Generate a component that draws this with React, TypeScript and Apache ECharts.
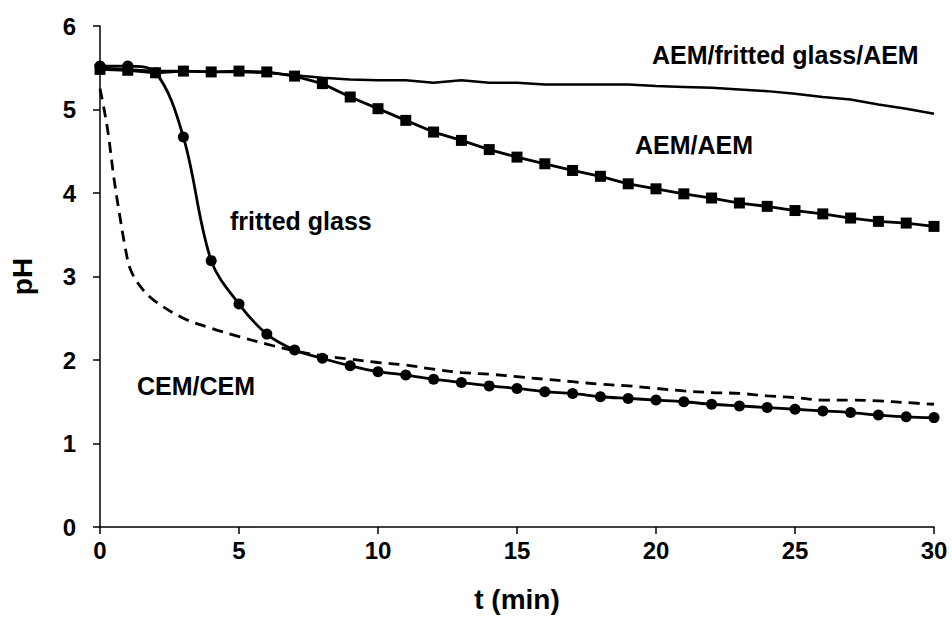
import React, { useEffect, useRef } from "react";
import * as echarts from "echarts";

const timeMinutes = [0, 1, 2, 3, 4, 5, 6, 7, 8, 9, 10, 11, 12, 13, 14, 15, 16, 17, 18, 19, 20, 21, 22, 23, 24, 25, 26, 27, 28, 29, 30];

const aemAemPH = [5.48, 5.47, 5.44, 5.46, 5.45, 5.46, 5.45, 5.4, 5.31, 5.15, 5.01, 4.87, 4.73, 4.63, 4.52, 4.43, 4.35, 4.27, 4.2, 4.11, 4.05, 3.99, 3.94, 3.88, 3.84, 3.79, 3.75, 3.7, 3.66, 3.64, 3.6];

const frittedGlassPH = [5.52, 5.52, 5.44, 4.67, 3.19, 2.67, 2.31, 2.12, 2.02, 1.93, 1.86, 1.82, 1.77, 1.73, 1.69, 1.66, 1.62, 1.6, 1.56, 1.54, 1.52, 1.5, 1.47, 1.45, 1.43, 1.41, 1.39, 1.37, 1.34, 1.32, 1.31];

const aemFrittedAemPH = [5.5, 5.48, 5.46, 5.46, 5.45, 5.45, 5.44, 5.41, 5.38, 5.36, 5.35, 5.35, 5.32, 5.35, 5.32, 5.32, 5.3, 5.3, 5.3, 5.3, 5.28, 5.27, 5.26, 5.24, 5.22, 5.19, 5.15, 5.12, 5.06, 5.01, 4.95];

const cemTimes = [0, 0.15, 0.3, 0.5, 0.7, 0.9, 1.1, 1.5, 2, 3, 4, 5, 6, 7, 8, 9, 10, 11, 12, 13, 14, 15, 16, 17, 18, 19, 20, 21, 22, 23, 24, 25, 26, 27, 28, 29, 30];
const cemCemPH = [5.25, 5.0, 4.7, 4.18, 3.75, 3.36, 3.08, 2.86, 2.7, 2.5, 2.38, 2.28, 2.19, 2.11, 2.05, 2.01, 1.97, 1.94, 1.89, 1.85, 1.83, 1.8, 1.77, 1.74, 1.71, 1.69, 1.66, 1.63, 1.61, 1.6, 1.57, 1.55, 1.52, 1.52, 1.51, 1.49, 1.47];

const xTicks = [0, 5, 10, 15, 20, 25, 30];
const yTicks = [0, 1, 2, 3, 4, 5, 6];

const seriesLabels = ["AEM/fritted glass/AEM", "AEM/AEM", "fritted glass", "CEM/CEM"];

const FONT = "'Liberation Sans', Arial, Helvetica, sans-serif";

const pairs = (xs: number[], ys: number[]) => xs.map((x, i) => [x, ys[i]]);

export default function App() {
  const ref = useRef<HTMLDivElement>(null);

  useEffect(() => {
    if (!ref.current) return;
    const chart = echarts.init(ref.current, undefined, { renderer: "svg" });
    const textStyle = {
      fontFamily: FONT,
      fontWeight: "bold",
      fontSize: 25,
      fill: "#000",
      align: "left",
      verticalAlign: "middle",
    };
    chart.setOption({
      animation: false,
      backgroundColor: "#fff",
      grid: { left: 100, right: 18, top: 26, bottom: 103, containLabel: false },
      xAxis: {
        type: "value",
        min: xTicks[0],
        max: xTicks[xTicks.length - 1],
        interval: 5,
        name: "t (min)",
        nameLocation: "middle",
        nameGap: 58,
        nameTextStyle: { fontFamily: FONT, fontWeight: "bold", fontSize: 28, color: "#000" },
        axisLine: { show: true, onZero: false, lineStyle: { color: "#000", width: 1.5 } },
        axisTick: { show: true, length: 7, lineStyle: { color: "#000", width: 1.5 } },
        axisLabel: { fontFamily: FONT, fontWeight: "bold", fontSize: 24, color: "#000", margin: 11 },
        splitLine: { show: false },
      },
      yAxis: {
        type: "value",
        min: yTicks[0],
        max: yTicks[yTicks.length - 1],
        interval: 1,
        name: "pH",
        nameLocation: "middle",
        nameGap: 64,
        nameRotate: 90,
        nameTextStyle: { fontFamily: FONT, fontWeight: "bold", fontSize: 28, color: "#000" },
        axisLine: { show: true, lineStyle: { color: "#000", width: 1.5 } },
        axisTick: { show: true, length: 7, lineStyle: { color: "#000", width: 1.5 } },
        axisLabel: { fontFamily: FONT, fontWeight: "bold", fontSize: 24, color: "#000", margin: 24 },
        splitLine: { show: false },
      },
      series: [
        {
          name: seriesLabels[0],
          type: "line",
          data: pairs(timeMinutes, aemFrittedAemPH),
          showSymbol: false,
          symbol: "none",
          lineStyle: { color: "#000", width: 2.5 },
          z: 2,
        },
        {
          name: seriesLabels[1],
          type: "line",
          data: pairs(timeMinutes, aemAemPH),
          symbol: "rect",
          symbolSize: 11,
          itemStyle: { color: "#000" },
          lineStyle: { color: "#000", width: 2.8 },
          z: 3,
        },
        {
          name: seriesLabels[2],
          type: "line",
          data: pairs(timeMinutes, frittedGlassPH),
          symbol: "circle",
          symbolSize: 11,
          smooth: 0.35,
          itemStyle: { color: "#000" },
          lineStyle: { color: "#000", width: 2.8 },
          z: 4,
        },
        {
          name: seriesLabels[3],
          type: "line",
          data: pairs(cemTimes, cemCemPH),
          showSymbol: false,
          symbol: "none",
          smooth: 0.35,
          lineStyle: { color: "#000", width: 2.8, type: [11, 7] },
          z: 1,
        },
      ],
      graphic: [
        { type: "text", x: 652, y: 55, style: { ...textStyle, text: seriesLabels[0] } },
        { type: "text", x: 635, y: 145, style: { ...textStyle, text: seriesLabels[1] } },
        { type: "text", x: 230, y: 221, style: { ...textStyle, text: seriesLabels[2] } },
        { type: "text", x: 137, y: 386, style: { ...textStyle, text: seriesLabels[3] } },
      ],
    });
    return () => chart.dispose();
  }, []);

  return (
    <div
      ref={ref}
      style={{ position: "fixed", left: 0, top: 0, width: 952, height: 630, background: "#fff" }}
    />
  );
}
